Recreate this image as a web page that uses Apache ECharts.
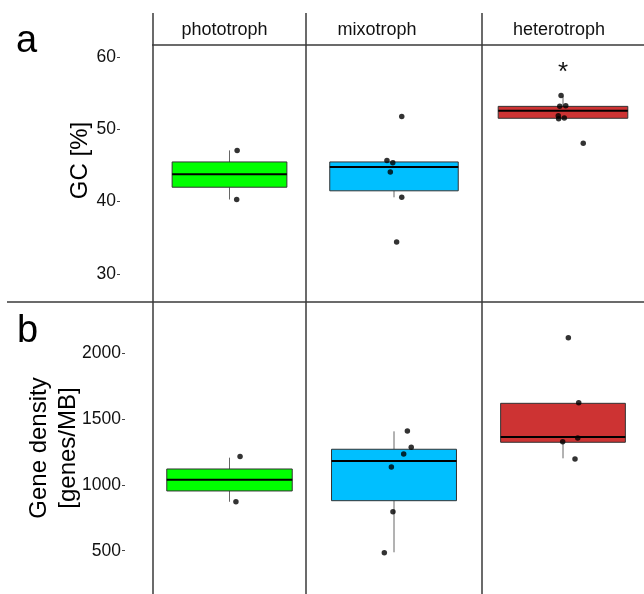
<!DOCTYPE html>
<html><head><meta charset="utf-8">
<script src="https://cdn.jsdelivr.net/npm/echarts@6/dist/echarts.min.js"></script>
<style>html,body{margin:0;padding:0;background:#fff}#c{width:644px;height:594px}</style>
</head><body><div id="c"></div>
<script>
// ---------------- data ----------------
const categories = ['phototroph', 'mixotroph', 'heterotroph'];
const panelLetters = ['a', 'b'];
const gcTitle = 'GC [%]';
const densityTitle = 'Gene density\n[genes/MB]';
const gcTicks = [30, 40, 50, 60];
const densityTicks = [500, 1000, 1500, 2000];
const gcRange = [26.1, 61.7];
const densityRange = [171, 2390];

// box statistics: [lower whisker, Q1, median, Q3, upper whisker]
const gcBoxPhototroph = [40.3, 42.0, 43.8, 45.5, 47.1];
const gcBoxMixotroph = [40.6, 41.5, 44.8, 45.5, 45.7];
const gcBoxHeterotroph = [51.5, 51.55, 52.6, 53.2, 54.6];
const densityBoxPhototroph = [872, 954, 1040, 1121, 1207];
const densityBoxMixotroph = [488, 880, 1182, 1271, 1407];
const densityBoxHeterotroph = [1202, 1324, 1364, 1620, 1620];

// individual genomes
const gcPointsPhototroph = [47.1, 40.3];
const gcPointsMixotroph = [51.8, 45.7, 45.4, 44.1, 40.6, 34.4];
const gcPointsHeterotroph = [54.7, 53.2, 53.3, 51.9, 51.5, 51.6, 48.1];
const densityPointsPhototroph = [1215, 872];
const densityPointsMixotroph = [1410, 1286, 1235, 1136, 796, 485];
const densityPointsHeterotroph = [2119, 1625, 1356, 1328, 1197];

// horizontal jitter of points (fraction of category width)
const gcJitterPhototroph = [0.05, 0.047];
const gcJitterMixotroph = [0.044, -0.040, -0.007, -0.021, 0.044, 0.015];
const gcJitterHeterotroph = [-0.012, -0.020, 0.017, -0.029, -0.027, 0.008, 0.125];
const densityJitterPhototroph = [0.069, 0.042];
const densityJitterMixotroph = [0.076, 0.098, 0.055, -0.015, -0.006, -0.055];
const densityJitterHeterotroph = [0.033, 0.097, 0.091, -0.002, 0.074];

const significanceGC = 57.8; // "*" above heterotroph

// ---------------- styling / layout ----------------
const FONT = '"Liberation Sans", Arial, Helvetica, sans-serif';
const boxColors = ['#00FF00', '#00BFFF', '#CD3333'];
const colEdges = [153, 306, 482, 644];
const panelTop = [45, 302];
const panelBottom = [302, 594];
const boxWidthFrac = [[0.75, 0.73, 0.80], [0.82, 0.71, 0.77]];
const labelShift = [5, 17, 4];

const panels = [
  { title: gcTitle, ticks: gcTicks, range: gcRange,
    boxes: [gcBoxPhototroph, gcBoxMixotroph, gcBoxHeterotroph],
    points: [gcPointsPhototroph, gcPointsMixotroph, gcPointsHeterotroph],
    jitter: [gcJitterPhototroph, gcJitterMixotroph, gcJitterHeterotroph],
    axisOffset: 33, nameGap: 25, namePad: [0, 0, 0, 26] },
  { title: densityTitle, ticks: densityTicks, range: densityRange,
    boxes: [densityBoxPhototroph, densityBoxMixotroph, densityBoxHeterotroph],
    points: [densityPointsPhototroph, densityPointsMixotroph, densityPointsHeterotroph],
    jitter: [densityJitterPhototroph, densityJitterMixotroph, densityJitterHeterotroph],
    axisOffset: 28, nameGap: 42, namePad: [0, 0, 0, 0] }
];

const grid = [], xAxis = [], yAxis = [], series = [];
panels.forEach((P, p) => {
  for (let c = 0; c < 3; c++) {
    const g = p * 3 + c;
    grid.push({ left: colEdges[c], width: colEdges[c + 1] - colEdges[c],
      top: panelTop[p], height: panelBottom[p] - panelTop[p], containLabel: false });
    xAxis.push({ gridIndex: g, type: 'category', data: [categories[c]], position: 'top',
      axisLine: { show: false, onZero: false }, axisTick: { show: false }, splitLine: { show: false },
      axisLabel: { show: p === 0, fontSize: 18, fontFamily: FONT, color: '#111', margin: 6,
        padding: [0, labelShift[c] * 2, 0, 0] } });
    xAxis.push({ gridIndex: g, type: 'value', min: -0.5, max: 0.5, show: false,
      axisLine: { onZero: false } });
    if (c === 0) {
      yAxis.push({ gridIndex: g, type: 'value', min: P.range[0], max: P.range[1],
        position: 'left', offset: P.axisOffset,
        axisLine: { show: false, onZero: false },
        axisTick: { show: true, length: 3, customValues: P.ticks, lineStyle: { color: '#444', width: 1 } },
        axisLabel: { customValues: P.ticks, margin: 4, fontSize: 17.5, fontFamily: FONT, color: '#111',
          formatter: v => String(v) },
        splitLine: { show: false },
        name: P.title, nameLocation: 'middle', nameGap: P.nameGap, nameMoveOverlap: false,
        nameTextStyle: { fontSize: 24, fontFamily: FONT, color: '#000', lineHeight: 29, padding: P.namePad } });
    } else {
      yAxis.push({ gridIndex: g, type: 'value', min: P.range[0], max: P.range[1], show: false,
        axisLine: { onZero: false }, splitLine: { show: false } });
    }
    const frac = boxWidthFrac[p][c];
    const fill = boxColors[c];
    series.push({
      type: 'custom', xAxisIndex: 2 * g, yAxisIndex: g, z: 2,
      data: [[0].concat(P.boxes[c])],
      encode: { x: 0, y: [1, 2, 3, 4, 5] },
      renderItem: function (params, api) {
        const x = api.value(0);
        const lo = api.coord([x, api.value(1)]);
        const q1 = api.coord([x, api.value(2)]);
        const md = api.coord([x, api.value(3)]);
        const q3 = api.coord([x, api.value(4)]);
        const hi = api.coord([x, api.value(5)]);
        const w = api.size([1, 0])[0] * frac;
        const cx = md[0];
        return { type: 'group', children: [
          { type: 'line', shape: { x1: cx, y1: lo[1], x2: cx, y2: q1[1] }, style: { stroke: '#666', lineWidth: 1 } },
          { type: 'line', shape: { x1: cx, y1: q3[1], x2: cx, y2: hi[1] }, style: { stroke: '#666', lineWidth: 1 } },
          { type: 'rect', shape: { x: cx - w / 2, y: q3[1], width: w, height: q1[1] - q3[1] },
            style: { fill: fill, stroke: '#333', lineWidth: 1 } },
          { type: 'line', shape: { x1: cx - w / 2, y1: md[1], x2: cx + w / 2, y2: md[1] },
            style: { stroke: '#000', lineWidth: 2 } }
        ] };
      }
    });
    const sc = {
      type: 'scatter', xAxisIndex: 2 * g + 1, yAxisIndex: g, z: 5,
      symbol: 'circle', symbolSize: 5.5, itemStyle: { color: '#000' },
      data: P.points[c].map((v, i) => [P.jitter[c][i], v])
    };
    if (p === 0 && c === 2) {
      sc.markPoint = { symbol: 'circle', symbolSize: 0, silent: true,
        data: [{ coord: [0, significanceGC], value: '*' }],
        label: { show: true, position: 'inside', formatter: '*', fontSize: 26, fontFamily: FONT, color: '#111' } };
    }
    series.push(sc);
  }
});

const lineStyle = { stroke: '#3a3a3a', lineWidth: 1.5 };
const graphic = [];
colEdges.slice(0, 3).forEach(x => {
  graphic.push({ type: 'line', z: 20, shape: { x1: x, y1: 13, x2: x, y2: 594 }, style: lineStyle });
});
graphic.push({ type: 'line', z: 20, shape: { x1: colEdges[0] - 1, y1: panelTop[0], x2: 644, y2: panelTop[0] }, style: lineStyle });
graphic.push({ type: 'line', z: 20, shape: { x1: 7, y1: panelTop[1], x2: 644, y2: panelTop[1] }, style: lineStyle });
graphic.push({ type: 'text', z: 20, style: { text: panelLetters[0], x: 16, y: 42, fontSize: 38, fontFamily: FONT, fill: '#000', verticalAlign: 'middle' } });
graphic.push({ type: 'text', z: 20, style: { text: panelLetters[1], x: 17, y: 332, fontSize: 38, fontFamily: FONT, fill: '#000', verticalAlign: 'middle' } });

const chart = echarts.init(document.getElementById('c'), null, { renderer: 'canvas' });
chart.setOption({ animation: false, backgroundColor: '#fff', grid, xAxis, yAxis, series, graphic });
</script></body></html>
